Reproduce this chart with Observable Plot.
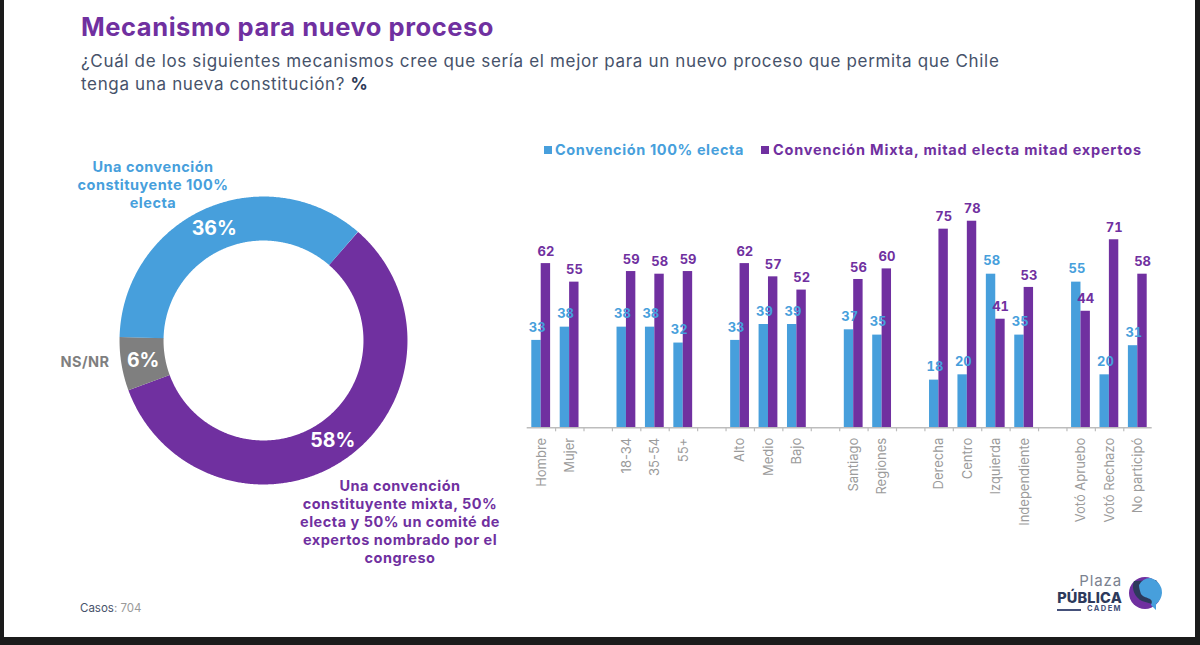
<!DOCTYPE html>
<html lang="es">
<head>
<meta charset="utf-8">
<script src="https://cdn.jsdelivr.net/npm/d3@7"></script>
<script src="https://cdn.jsdelivr.net/npm/@observablehq/plot@0.6"></script>
<style>
html,body{margin:0;padding:0;background:#1b1b1b;}
#page{position:absolute;left:4px;top:0;width:1191px;height:637px;background:#fff;overflow:hidden;}
#wrap{position:absolute;left:0;top:0;width:1200px;height:645px;overflow:hidden;font-family:Inter,"Noto Sans",sans-serif;}
.abs{position:absolute;white-space:nowrap;}
svg{overflow:visible;}
#title{left:81px;top:11px;font-size:25.5px;font-weight:700;color:#7030a0;margin:0;letter-spacing:.55px;line-height:32px;}
#sub{left:81px;top:50px;font-size:17px;line-height:23px;color:#46526a;letter-spacing:.66px;}
#sub b{color:#2d3a56;}
.lab{font-size:14.5px;font-weight:700;text-align:center;line-height:18px;transform:translateX(-50%);letter-spacing:.5px;}
.leg{top:141px;font-size:14.5px;font-weight:700;line-height:18px;}
.sw{top:146px;width:8px;height:8px;}
</style>
</head>
<body>
<div id="wrap">
<div id="page"></div>
<h1 class="abs" id="title">Mecanismo para nuevo proceso</h1>
<div class="abs" id="sub">¿Cuál de los siguientes mecanismos cree que sería el mejor para un nuevo proceso que permita que Chile<br>tenga una nueva constitución? <b>%</b></div>

<div class="abs sw" style="left:544px;background:#479fdc"></div>
<div class="abs leg" style="left:555px;color:#479fdc;letter-spacing:.6px">Convención 100% electa</div>
<div class="abs sw" style="left:761px;background:#7030a0"></div>
<div class="abs leg" style="left:773px;color:#7030a0;letter-spacing:.8px">Convención Mixta, mitad electa mitad expertos</div>

<div class="abs lab" style="left:153px;top:158px;color:#479fdc">Una convención<br>constituyente 100%<br>electa</div>
<div class="abs lab" style="left:85px;top:353px;color:#7f7f7f">NS/NR</div>
<div class="abs lab" style="left:400px;top:477px;color:#7030a0">Una convención<br>constituyente mixta, 50%<br>electa y 50% un comité de<br>expertos nombrado por el<br>congreso</div>

<div id="donut" class="abs" style="left:113px;top:190px"></div>
<div id="bars" class="abs" style="left:500px;top:190px"></div>

<div class="abs" style="left:80px;top:600px;font-size:11.5px;line-height:16px;color:#9a9a9a"><span style="color:#46526a">Casos</span>: 704</div>

<div class="abs" style="right:78px;top:574px;font-size:15px;line-height:14px;color:#7b8290;letter-spacing:.9px">Plaza</div>
<div class="abs" style="right:78px;top:591px;font-size:14.5px;line-height:14px;font-weight:800;color:#2d3a5c;letter-spacing:.2px">PÚBLICA</div>
<div class="abs" style="right:78px;top:604px;font-size:7.5px;line-height:9px;font-weight:700;color:#45517a;letter-spacing:1.4px">CADEM</div>
<div class="abs" style="left:1057px;top:609px;width:24px;height:2px;background:#45517a"></div>
<svg class="abs" style="left:1126px;top:574px" width="40" height="40" viewBox="0 0 40 40">
  <circle cx="19" cy="19" r="16" fill="#7030a0"/>
  <path d="M8 7 A16 16 0 0 0 16 27 L26 30 A16 16 0 0 0 30 6 Z" fill="#2d3a5c"/>
  <path d="M13 11 A13 13 0 0 1 24 4 A15 15 0 0 1 36 19 A15 15 0 0 1 30 30 L30 36 L25 31 C29 23 18 25 15 20 C14 17 13 14 13 11 Z" fill="#479fdc"/>
</svg>
</div>
<script>
// Donut
const sliceNames = ["Convención mixta", "NS/NR", "Convención 100% electa"];
const sliceValues = [58, 6, 36];
const sliceColors = ["#7030a0", "#7f7f7f", "#479fdc"];

// Bars
const categories = ["Hombre","Mujer","_a","18-34","35-54","55+","_b","Alto","Medio","Bajo","_c","Santiago","Regiones","_d","Derecha","Centro","Izquierda","Independiente","_e","Votó Apruebo","Votó Rechazo","No participó"];
const electa = [33,38,null,38,38,32,null,33,39,39,null,37,35,null,18,20,58,35,null,55,20,31];
const mixta  = [62,55,null,59,58,59,null,62,57,52,null,56,60,null,75,78,41,53,null,44,71,58];

const font = 'Inter,"Noto Sans",sans-serif';

// --- donut: one thick line per slice, angles derived from the values
const startTurn = 41 / 360;
const midRadius = 0.847;
let acc = startTurn;
const arcRows = [], pctRows = [];
sliceValues.forEach((v, i) => {
  const a0 = acc * 2 * Math.PI, a1 = (acc + v / 100) * 2 * Math.PI;
  const n = Math.ceil((a1 - a0) / 0.008);
  for (let k = 0; k <= n; k++) {
    const a = a0 + (a1 - a0) * k / n;
    arcRows.push({name: sliceNames[i], color: sliceColors[i], x: midRadius * Math.sin(a), y: midRadius * Math.cos(a)});
  }
  const m = (a0 + a1) / 2;
  pctRows.push({x: midRadius * Math.sin(m), y: midRadius * Math.cos(m), label: v + "%"});
  acc += v / 100;
});
document.getElementById("donut").append(Plot.plot({
  width: 300, height: 300, margin: 6,
  style: {background: "transparent", fontFamily: font},
  x: {domain: [-1, 1], axis: null},
  y: {domain: [-1, 1], axis: null},
  marks: [
    Plot.line(arcRows, {x: "x", y: "y", z: "name", stroke: "color", strokeWidth: 44, strokeLinecap: "butt", strokeLinejoin: "round"}),
    Plot.text(pctRows, {x: "x", y: "y", text: "label", fill: "#fff", fontSize: 19.5, fontWeight: 700})
  ]
}));

// --- bars
const rows = categories.map((c, i) => ({c, electa: electa[i], mixta: mixta[i]})).filter(d => d.electa != null);
const labels = categories.filter(c => !c.startsWith("_"));
document.getElementById("bars").append(Plot.plot({
  width: 672, height: 350,
  marginLeft: 26.7, marginRight: 20.3, marginTop: 0, marginBottom: 112.7,
  style: {background: "transparent", fontFamily: font},
  x: {domain: categories, padding: 0, round: false, label: null},
  y: {domain: [0, 89.6], axis: null},
  marks: [
    Plot.barY(rows, {x: "c", y: "electa", fill: "#479fdc", insetLeft: 4.6, insetRight: 14.4}),
    Plot.barY(rows, {x: "c", y: "mixta", fill: "#7030a0", insetLeft: 14, insetRight: 5}),
    Plot.ruleY([0], {stroke: "#bdbdbd", strokeWidth: 1.5}),
    Plot.axisX({ticks: categories.slice(1), tickSize: 4, dx: -14.22, text: null, stroke: "#bdbdbd", strokeWidth: 1.2, label: null}),
    Plot.axisX({ticks: labels, tickSize: 0, tickPadding: 10, tickRotate: -90, fill: "#9b9b9b", fontSize: 13, label: null}),
    Plot.text(rows, {x: "c", y: "electa", text: "electa", dx: -4.2, dy: -13, fill: "#479fdc", fontSize: 13, fontWeight: 700}),
    Plot.text(rows, {x: "c", y: "mixta", text: "mixta", dx: 4.6, dy: -12, fill: "#7030a0", fontSize: 13, fontWeight: 700})
  ]
}));
</script>
</body>
</html>
